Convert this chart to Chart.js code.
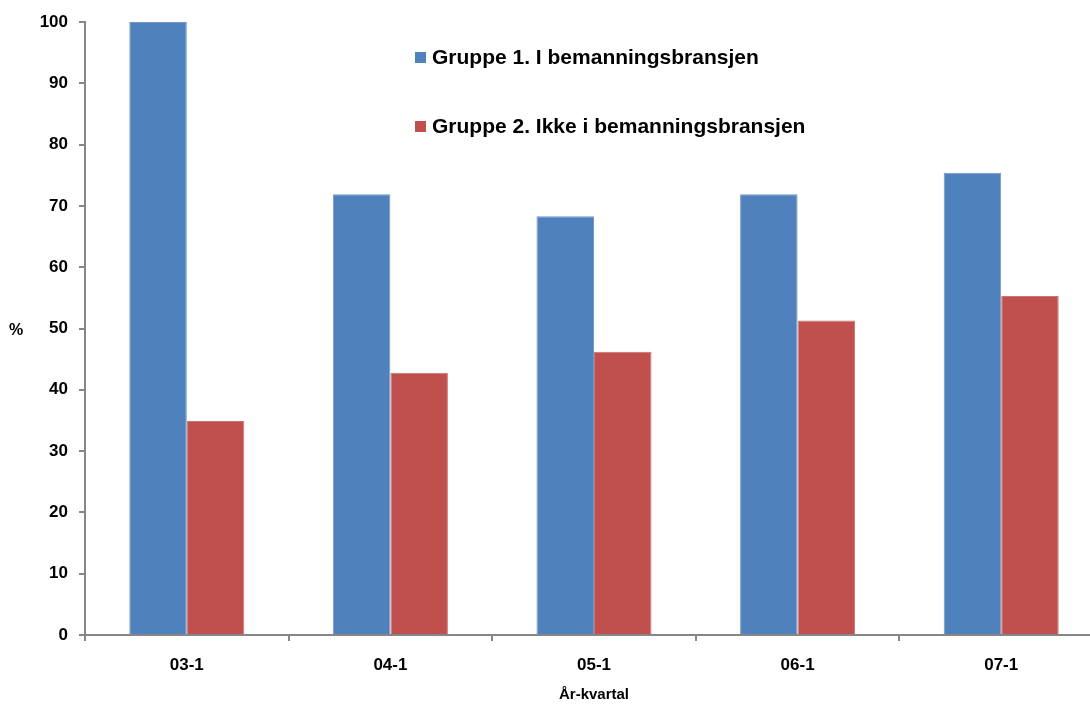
<!DOCTYPE html>
<html>
<head>
<meta charset="utf-8">
<script src="https://cdn.jsdelivr.net/npm/chart.js@4.4.1/dist/chart.umd.min.js"></script>
<style>
    html, body { margin: 0; padding: 0; background: #fff; overflow: hidden; }
    /* plot runs slightly past the right edge of the window, as in the original */
    #wrap { width: 1103px; height: 704px; position: relative; }
</style>
</head>
<body>
<div id="wrap"><canvas id="chart"></canvas></div>
<script>
// chart data
const categories = ['03-1', '04-1', '05-1', '06-1', '07-1'];
const group1Values = [100, 71.9, 68.3, 71.9, 75.4];
const group2Values = [34.9, 42.8, 46.2, 51.3, 55.3];
const seriesLabels = ['Gruppe 1. I bemanningsbransjen', 'Gruppe 2. Ikke i bemanningsbransjen'];
const yTicks = [0, 10, 20, 30, 40, 50, 60, 70, 80, 90, 100];

const FONT = '"Liberation Sans", Arial, sans-serif';
const AXIS_GREY = '#868686';

// legend drawn inside the plot area, stacked vertically
const insideLegend = {
    id: 'insideLegend',
    afterDraw(chart) {
        const ctx = chart.ctx;
        ctx.save();
        ctx.font = 'bold 21px ' + FONT;
        ctx.textBaseline = 'middle';
        chart.data.datasets.forEach((ds, i) => {
            const y = 58 + i * 69;
            ctx.fillStyle = ds.backgroundColor;
            ctx.fillRect(415, y - 6, 11, 11);
            ctx.fillStyle = '#000';
            ctx.fillText(ds.label, 432, y);
        });
        ctx.restore();
    }
};

// horizontal "%" axis title
const yTitle = {
    id: 'yTitle',
    afterDraw(chart) {
        const ctx = chart.ctx;
        ctx.save();
        ctx.font = 'bold 16px ' + FONT;
        ctx.fillStyle = '#000';
        ctx.textAlign = 'center';
        ctx.textBaseline = 'middle';
        ctx.fillText('%', 16, chart.scales.y.getPixelForValue(50) + 2);
        ctx.restore();
    }
};

new Chart(document.getElementById('chart'), {
    type: 'bar',
    data: {
        labels: categories,
        datasets: [{
            label: seriesLabels[0],
            data: group1Values,
            backgroundColor: '#4F81BD',
            borderColor: '#7396C8',
            borderWidth: 1
        }, {
            label: seriesLabels[1],
            data: group2Values,
            backgroundColor: '#C0504D',
            borderColor: '#CC7370',
            borderWidth: 1
        }]
    },
    options: {
        responsive: true,
        maintainAspectRatio: false,
        animation: false,
        layout: { padding: { top: 22, right: 0, left: 0, bottom: 0 } },
        plugins: {
            legend: { display: false },
            tooltip: { enabled: false }
        },
        datasets: {
            bar: { categoryPercentage: 0.565, barPercentage: 1 }
        },
        scales: {
            x: {
                grid: {
                    display: true,
                    drawOnChartArea: false,
                    offset: true,
                    tickLength: 6,
                    color: AXIS_GREY,
                    lineWidth: 2
                },
                border: { color: AXIS_GREY, width: 2 },
                ticks: {
                    color: '#000',
                    font: { family: FONT, size: 17, weight: 'bold' },
                    padding: 14
                },
                title: {
                    display: true,
                    text: 'År-kvartal',
                    color: '#000',
                    font: { family: FONT, size: 15, weight: 'bold' },
                    padding: { top: 8, bottom: 0 }
                },
                afterFit(scale) { scale.height = 69; }
            },
            y: {
                min: 0,
                max: 100,
                afterBuildTicks(scale) { scale.ticks = yTicks.map(v => ({ value: v })); },
                grid: {
                    display: true,
                    drawOnChartArea: false,
                    tickLength: 6,
                    color: AXIS_GREY,
                    lineWidth: 2
                },
                border: { color: AXIS_GREY, width: 2 },
                ticks: {
                    color: '#000',
                    font: { family: FONT, size: 17, weight: 'bold' },
                    padding: 11
                },
                afterFit(scale) { scale.width = 85; }
            }
        }
    },
    plugins: [insideLegend, yTitle]
});
</script>
</body>
</html>
